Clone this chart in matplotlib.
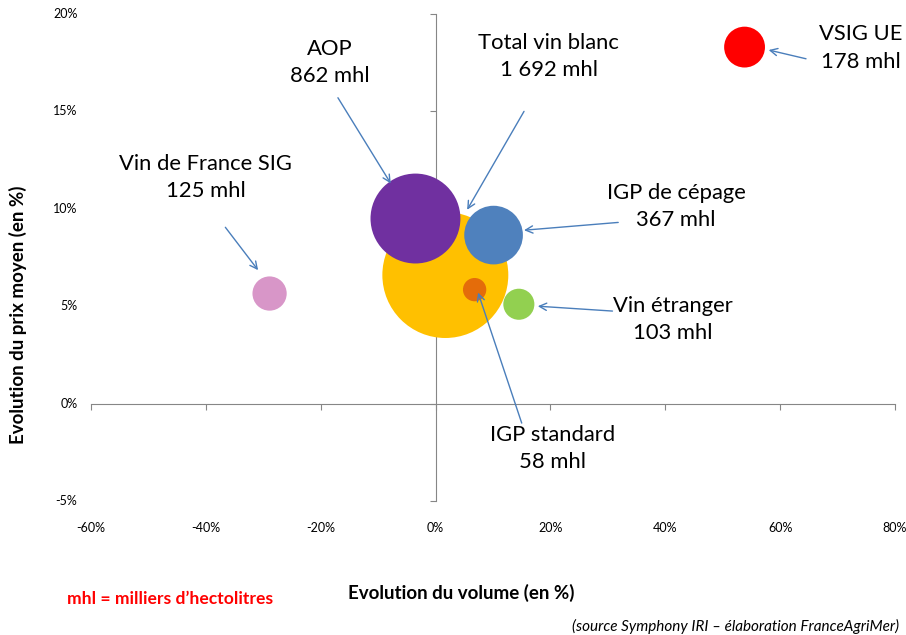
import numpy as np
import matplotlib.pyplot as plt

plt.rcParams['font.family'] = ['Lato', 'DejaVu Sans']

# data
names = ['Total vin blanc', 'AOP', 'IGP de cépage', 'IGP standard',
         'Vin étranger', 'VSIG UE', 'Vin de France SIG']
volumes = [1692, 862, 367, 58, 103, 178, 125]
vol_change = [1.7, -3.5, 10.1, 6.8, 14.5, 53.8, -28.9]
price_change = [6.6, 9.5, 8.65, 5.85, 5.1, 18.3, 5.65]
colors = ['#FFC000', '#7030A0', '#4F81BD', '#E46C0A', '#92D050', '#FF0000', '#D896C8']

# label text position, arrow start, arrow head (data units)
label_pos = [(19.7, 17.8), (-18.4, 17.5), (41.9, 10.1), (20.3, -2.3),
             (41.3, 4.3), (74.1, 18.25), (-40.0, 11.6)]
arrow_from = [(15.4, 15.0), (-17.0, 15.7), (31.8, 9.3), (15.0, -1.0),
              (30.8, 4.75), (64.5, 17.7), (-36.6, 9.05)]
arrow_to = [(5.5, 9.95), (-7.8, 11.3), (15.4, 8.9), (7.4, 5.7),
            (17.8, 5.0), (58.0, 18.15), (-30.9, 6.85)]

xticks = [-60, -40, -20, 0, 20, 40, 60, 80]
yticks = [-5, 0, 5, 10, 15, 20]

fig = plt.figure(figsize=(9.06, 6.35), dpi=100)
ax = fig.add_axes([0.1004, 0.211, 0.8875, 0.767])

sizes = [4.86 * v for v in volumes]
ax.scatter(vol_change, price_change, s=sizes, c=colors, linewidths=0, zorder=3)

for name, v, lp, af, at in zip(names, volumes, label_pos, arrow_from, arrow_to):
    vol_txt = f'{v:,}'.replace(',', ' ') + ' mhl'
    ax.text(lp[0], lp[1], name + '\n' + vol_txt, ha='center', va='center',
            fontsize=15.8, linespacing=1.45, color='black', zorder=5)
    ax.annotate('', xy=at, xytext=af,
                arrowprops=dict(arrowstyle='->', color='#4A7EBB', lw=1.0,
                                shrinkA=0, shrinkB=0, mutation_scale=13), zorder=4)

ax.set_xlim(-60, 80)
ax.set_ylim(-5, 20)

# axes cross at zero
for side in ['top', 'right']:
    ax.spines[side].set_visible(False)
ax.spines['left'].set_position(('data', 0))
ax.spines['bottom'].set_position(('data', 0))
ax.spines['left'].set_color('#868686')
ax.spines['bottom'].set_color('#868686')
ax.set_xticks(xticks)
ax.set_yticks(yticks)
ax.tick_params(direction='out', length=4, color='#868686', labelbottom=False, labelleft=False)

for t in xticks:
    ax.text(t, -0.055, f'{t}%', transform=ax.get_xaxis_transform(),
            ha='center', va='center', fontsize=9)
for t in yticks:
    ax.text(-0.017, t, f'{t}%', transform=ax.get_yaxis_transform(),
            ha='right', va='center', fontsize=9)

fig.text(0.509, 0.066, 'Evolution du volume (en %)', ha='center', va='center',
         fontsize=13.5, fontweight='bold')
fig.text(0.02, 0.505, 'Evolution du prix moyen (en %)', ha='center', va='center',
         rotation=90, fontsize=13.5, fontweight='bold')
fig.text(0.074, 0.057, 'mhl = milliers d\u2019hectolitres', ha='left', va='center',
         fontsize=12.6, fontweight='bold', color='#FF0000')
fig.text(0.992, 0.013, '(source Symphony IRI \u2013 élaboration FranceAgriMer)',
         ha='right', va='center', fontsize=11, style='italic')

fig.savefig('out.png', dpi=100)
